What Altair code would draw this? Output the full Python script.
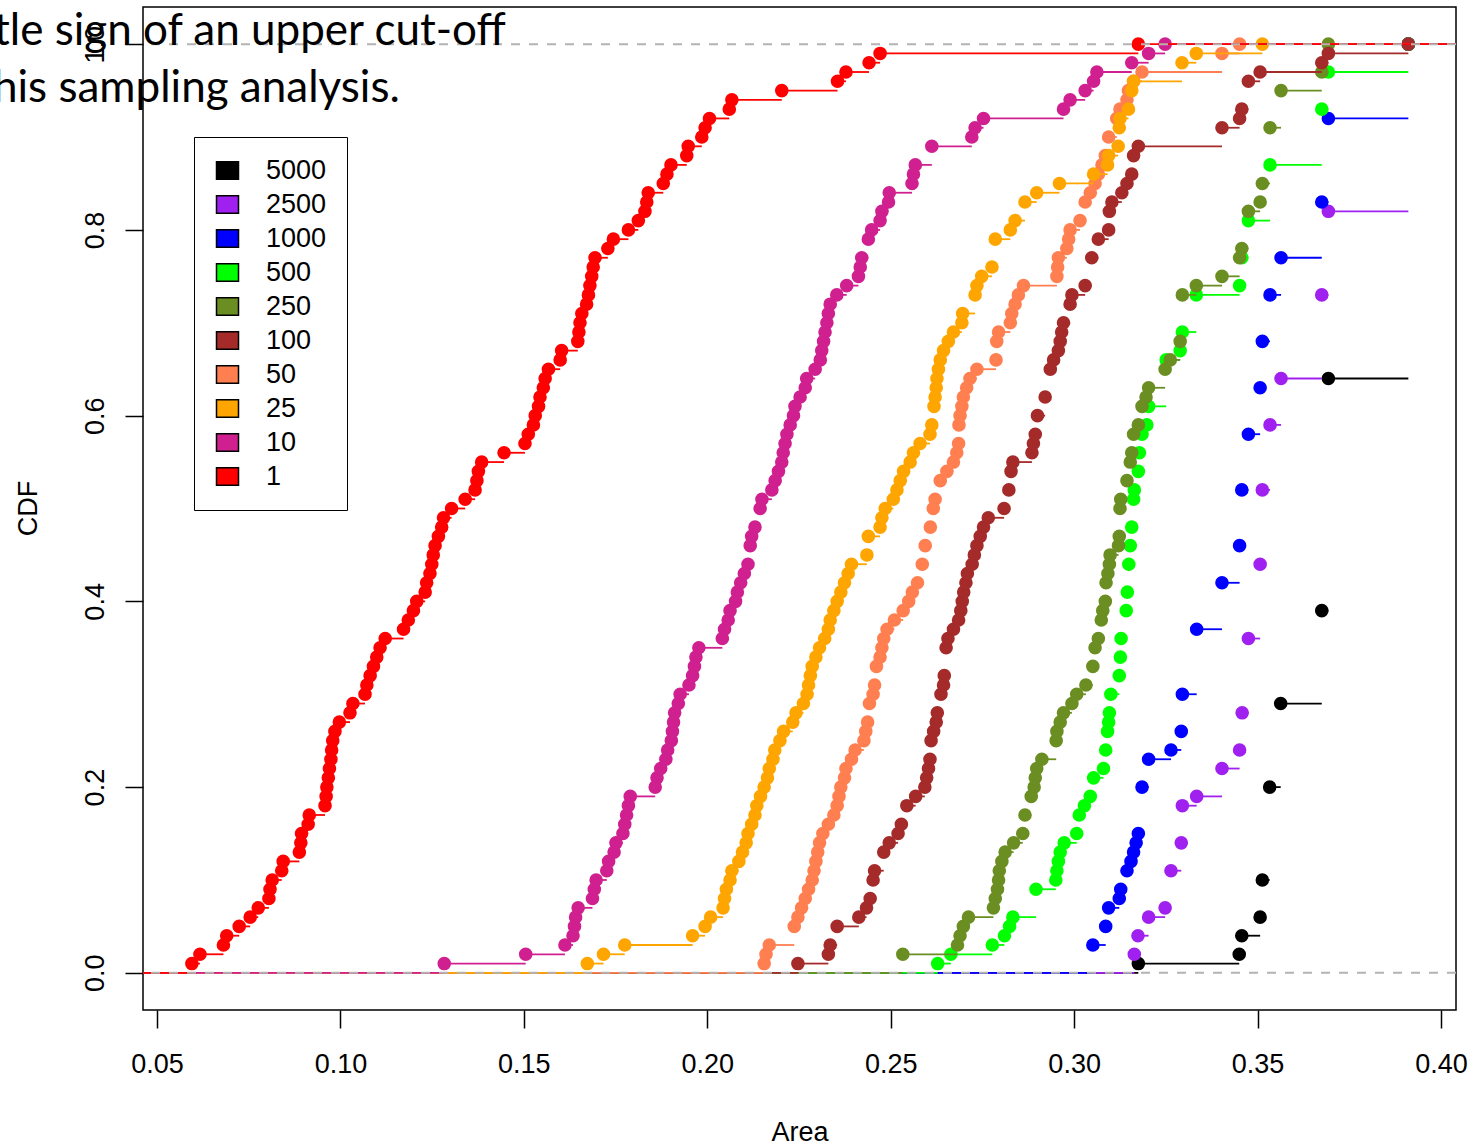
import altair as alt
import pandas as pd

FONT = "Liberation Sans"

# Sample sizes in legend order (top to bottom) and their colours
SIZES = ["5000", "2500", "1000", "500", "250", "100", "50", "25", "10", "1"]
COLORS = ["#000000", "#A020F0", "#0000FF", "#00FF00", "#6B8E23",
          "#A52A2A", "#FF7F50", "#FFA500", "#D02090", "#FF0000"]

# Axis limits and tick positions
X_LIMITS = [0.04618, 0.40409]
Y_LIMITS = [-0.04, 1.04]
X_TICKS = [0.05, 0.10, 0.15, 0.20, 0.25, 0.30, 0.35, 0.40]
Y_TICKS = [0.0, 0.2, 0.4, 0.6, 0.8, 1.0]

# ECDF knots per sample size: (area, cumulative count out of 100 draws)
ecdf_5000 = [(0.3175, 1), (0.3450, 2), (0.3457, 4), (0.3507, 6), (0.3513, 10),
             (0.3533, 20), (0.3563, 29), (0.3675, 39), (0.3693, 64), (0.3911, 100)]

ecdf_2500 = [(0.3164, 2), (0.3174, 4), (0.3203, 6), (0.3248, 7), (0.3264, 11),
             (0.3292, 14), (0.3295, 18), (0.3334, 19), (0.3403, 22), (0.3451, 24),
             (0.3458, 28), (0.3475, 36), (0.3507, 44), (0.3513, 52), (0.3534, 59),
             (0.3564, 64), (0.3675, 73), (0.3693, 82), (0.3911, 100)]

ecdf_1000 = [(0.3051, 3), (0.3086, 5), (0.3094, 7), (0.3123, 8), (0.3127, 9),
             (0.3144, 11), (0.3155, 12), (0.3162, 13), (0.3169, 14), (0.3175, 15),
             (0.3185, 20), (0.3203, 23), (0.3264, 24), (0.3292, 26), (0.3295, 30),
             (0.3334, 37), (0.3403, 42), (0.3451, 46), (0.3457, 52), (0.3475, 58),
             (0.3507, 63), (0.3513, 68), (0.3534, 73), (0.3564, 77), (0.3675, 83),
             (0.3693, 92), (0.3911, 100)]

ecdf_500 = [(0.2628, 1), (0.2664, 2), (0.2777, 3), (0.2810, 4), (0.2824, 5),
            (0.2833, 6), (0.2896, 9), (0.2950, 10), (0.2953, 11), (0.2957, 12),
            (0.2962, 13), (0.2973, 14), (0.3007, 15), (0.3014, 17), (0.3028, 18),
            (0.3044, 19), (0.3053, 21), (0.3080, 22), (0.3086, 24), (0.3091, 26),
            (0.3094, 27), (0.3096, 28), (0.3100, 30), (0.3123, 32), (0.3126, 34),
            (0.3128, 36), (0.3142, 39), (0.3145, 41), (0.3149, 44), (0.3153, 46),
            (0.3157, 48), (0.3162, 51), (0.3164, 52), (0.3175, 54), (0.3178, 56),
            (0.3185, 58), (0.3198, 59), (0.3203, 61), (0.3251, 66), (0.3289, 67),
            (0.3295, 69), (0.3333, 73), (0.3451, 74), (0.3457, 77), (0.3475, 81),
            (0.3534, 87), (0.3675, 93), (0.3693, 97), (0.3911, 100)]

ecdf_250 = [(0.2533, 2), (0.2682, 3), (0.2689, 4), (0.2698, 5), (0.2712, 6),
            (0.2780, 7), (0.2785, 8), (0.2791, 9), (0.2794, 10), (0.2796, 11),
            (0.2803, 12), (0.2812, 13), (0.2835, 14), (0.2860, 15), (0.2866, 17),
            (0.2883, 19), (0.2891, 20), (0.2894, 21), (0.2898, 22), (0.2912, 23),
            (0.2951, 25), (0.2953, 26), (0.2962, 27), (0.2971, 28), (0.2994, 29),
            (0.3007, 30), (0.3032, 31), (0.3051, 33), (0.3057, 35), (0.3066, 36),
            (0.3074, 38), (0.3078, 39), (0.3085, 40), (0.3087, 42), (0.3092, 43),
            (0.3096, 44), (0.3098, 45), (0.3121, 46), (0.3123, 47), (0.3125, 50),
            (0.3127, 51), (0.3144, 53), (0.3153, 55), (0.3157, 56), (0.3162, 58),
            (0.3175, 59), (0.3185, 61), (0.3196, 62), (0.3203, 63), (0.3248, 65),
            (0.3262, 66), (0.3289, 68), (0.3295, 73), (0.3333, 74), (0.3403, 75),
            (0.3451, 77), (0.3457, 78), (0.3475, 82), (0.3507, 83), (0.3513, 85),
            (0.3534, 91), (0.3564, 95), (0.3675, 97), (0.3693, 100)]

ecdf_100 = [(0.2247, 1), (0.2330, 2), (0.2335, 3), (0.2354, 5), (0.2413, 6),
            (0.2434, 7), (0.2444, 8), (0.2452, 10), (0.2456, 11), (0.2481, 13),
            (0.2496, 14), (0.2520, 15), (0.2529, 16), (0.2544, 18), (0.2568, 19),
            (0.2593, 20), (0.2598, 21), (0.2603, 22), (0.2607, 23), (0.2610, 25),
            (0.2617, 26), (0.2624, 27), (0.2627, 28), (0.2637, 30), (0.2644, 31),
            (0.2646, 32), (0.2651, 35), (0.2656, 36), (0.2671, 37), (0.2685, 38),
            (0.2691, 39), (0.2695, 40), (0.2699, 41), (0.2705, 42), (0.2709, 43),
            (0.2722, 44), (0.2728, 45), (0.2735, 46), (0.2744, 47), (0.2753, 48),
            (0.2766, 49), (0.2809, 50), (0.2822, 52), (0.2828, 54), (0.2833, 55),
            (0.2885, 56), (0.2889, 57), (0.2894, 58), (0.2900, 60), (0.2921, 62),
            (0.2935, 65), (0.2944, 66), (0.2957, 67), (0.2962, 68), (0.2966, 69),
            (0.2971, 70), (0.2989, 72), (0.2994, 73), (0.3030, 74), (0.3048, 77),
            (0.3066, 79), (0.3094, 80), (0.3096, 82), (0.3103, 83), (0.3130, 84),
            (0.3144, 85), (0.3157, 86), (0.3162, 88), (0.3175, 89), (0.3403, 91),
            (0.3451, 92), (0.3457, 93), (0.3475, 96), (0.3507, 97), (0.3675, 98),
            (0.3693, 99), (0.3911, 100)]

ecdf_50 = [(0.2155, 1), (0.2160, 2), (0.2169, 3), (0.2237, 5), (0.2247, 6),
           (0.2257, 7), (0.2267, 8), (0.2276, 9), (0.2286, 10), (0.2291, 11),
           (0.2296, 12), (0.2301, 13), (0.2306, 14), (0.2315, 15), (0.2330, 16),
           (0.2345, 17), (0.2354, 18), (0.2359, 19), (0.2364, 20), (0.2374, 21),
           (0.2378, 22), (0.2393, 23), (0.2403, 24), (0.2427, 25), (0.2432, 26),
           (0.2437, 27), (0.2442, 29), (0.2452, 30), (0.2456, 31), (0.2461, 33),
           (0.2471, 34), (0.2476, 35), (0.2481, 36), (0.2490, 37), (0.2510, 38),
           (0.2534, 39), (0.2549, 40), (0.2559, 41), (0.2573, 42), (0.2586, 44),
           (0.2594, 46), (0.2608, 48), (0.2616, 50), (0.2621, 51), (0.2635, 53),
           (0.2653, 54), (0.2671, 55), (0.2680, 56), (0.2685, 57), (0.2686, 59),
           (0.2689, 60), (0.2694, 61), (0.2698, 62), (0.2707, 63), (0.2716, 64),
           (0.2735, 65), (0.2787, 66), (0.2789, 68), (0.2794, 69), (0.2826, 70),
           (0.2830, 71), (0.2839, 72), (0.2848, 73), (0.2862, 74), (0.2953, 75),
           (0.2955, 76), (0.2957, 77), (0.2980, 78), (0.2985, 79), (0.2989, 80),
           (0.3016, 81), (0.3030, 83), (0.3044, 84), (0.3057, 85), (0.3066, 86),
           (0.3076, 87), (0.3085, 88), (0.3094, 90), (0.3116, 92), (0.3125, 93),
           (0.3144, 94), (0.3148, 95), (0.3162, 96), (0.3185, 97), (0.3403, 99),
           (0.3451, 100)]

ecdf_25 = [(0.1673, 1), (0.1717, 2), (0.1775, 3), (0.1960, 4), (0.1994, 5),
           (0.2009, 6), (0.2043, 7), (0.2047, 8), (0.2052, 9), (0.2062, 10),
           (0.2067, 11), (0.2086, 12), (0.2096, 13), (0.2106, 14), (0.2111, 15),
           (0.2121, 16), (0.2130, 17), (0.2135, 18), (0.2145, 19), (0.2155, 20),
           (0.2164, 21), (0.2169, 22), (0.2179, 23), (0.2184, 24), (0.2198, 25),
           (0.2208, 26), (0.2233, 27), (0.2242, 28), (0.2262, 29), (0.2272, 30),
           (0.2276, 31), (0.2281, 32), (0.2286, 33), (0.2296, 34), (0.2306, 35),
           (0.2320, 36), (0.2330, 37), (0.2335, 38), (0.2345, 39), (0.2354, 40),
           (0.2364, 41), (0.2374, 42), (0.2384, 43), (0.2393, 44), (0.2435, 45),
           (0.2439, 47), (0.2471, 48), (0.2476, 49), (0.2485, 50), (0.2507, 51),
           (0.2517, 52), (0.2526, 53), (0.2535, 54), (0.2553, 55), (0.2562, 56),
           (0.2580, 57), (0.2607, 58), (0.2612, 59), (0.2618, 61), (0.2621, 62),
           (0.2624, 63), (0.2626, 64), (0.2630, 65), (0.2635, 66), (0.2644, 67),
           (0.2657, 68), (0.2671, 69), (0.2694, 70), (0.2696, 71), (0.2730, 73),
           (0.2735, 74), (0.2748, 75), (0.2776, 76), (0.2785, 79), (0.2826, 80),
           (0.2839, 81), (0.2866, 83), (0.2898, 84), (0.2960, 85), (0.3053, 86),
           (0.3091, 87), (0.3094, 88), (0.3120, 89), (0.3123, 91), (0.3125, 92),
           (0.3148, 93), (0.3157, 95), (0.3162, 96), (0.3294, 98), (0.3333, 99),
           (0.3513, 100)]

ecdf_10 = [(0.1283, 1), (0.1505, 2), (0.1612, 3), (0.1634, 4), (0.1638, 5),
           (0.1641, 6), (0.1648, 7), (0.1687, 8), (0.1692, 9), (0.1697, 10),
           (0.1726, 11), (0.1731, 12), (0.1746, 13), (0.1751, 14), (0.1770, 15),
           (0.1775, 16), (0.1780, 17), (0.1785, 18), (0.1790, 19), (0.1858, 20),
           (0.1863, 21), (0.1873, 22), (0.1887, 23), (0.1892, 24), (0.1902, 25),
           (0.1905, 26), (0.1908, 27), (0.1911, 28), (0.1921, 29), (0.1926, 30),
           (0.1950, 31), (0.1960, 32), (0.1965, 33), (0.1969, 34), (0.1977, 35),
           (0.2041, 36), (0.2047, 37), (0.2057, 38), (0.2062, 39), (0.2077, 40),
           (0.2082, 41), (0.2091, 42), (0.2101, 43), (0.2111, 44), (0.2117, 46),
           (0.2121, 47), (0.2130, 48), (0.2144, 50), (0.2149, 51), (0.2176, 52),
           (0.2185, 53), (0.2194, 54), (0.2203, 55), (0.2207, 56), (0.2212, 57),
           (0.2217, 58), (0.2226, 59), (0.2235, 60), (0.2239, 61), (0.2253, 62),
           (0.2267, 63), (0.2271, 64), (0.2294, 65), (0.2308, 66), (0.2312, 67),
           (0.2317, 68), (0.2321, 69), (0.2326, 70), (0.2330, 71), (0.2335, 72),
           (0.2353, 73), (0.2380, 74), (0.2412, 75), (0.2417, 76), (0.2421, 77),
           (0.2439, 79), (0.2448, 80), (0.2471, 81), (0.2476, 82), (0.2494, 83),
           (0.2496, 84), (0.2558, 85), (0.2562, 86), (0.2567, 87), (0.2612, 89),
           (0.2721, 90), (0.2730, 91), (0.2753, 92), (0.2971, 93), (0.2989, 94),
           (0.3030, 95), (0.3053, 96), (0.3062, 97), (0.3157, 98), (0.3203, 99),
           (0.3248, 100)]

ecdf_1 = [(0.0595, 1), (0.0617, 2), (0.0681, 3), (0.0690, 4), (0.0724, 5),
          (0.0754, 6), (0.0776, 7), (0.0805, 8), (0.0808, 9), (0.0814, 10),
          (0.0840, 11), (0.0844, 12), (0.0888, 13), (0.0892, 14), (0.0894, 15),
          (0.0912, 16), (0.0915, 17), (0.0958, 18), (0.0961, 19), (0.0963, 20),
          (0.0967, 21), (0.0970, 22), (0.0974, 23), (0.0976, 24), (0.0979, 25),
          (0.0985, 26), (0.0997, 27), (0.1026, 28), (0.1034, 29), (0.1067, 30),
          (0.1072, 31), (0.1081, 32), (0.1090, 33), (0.1099, 34), (0.1108, 35),
          (0.1122, 36), (0.1172, 37), (0.1185, 38), (0.1199, 39), (0.1208, 40),
          (0.1231, 41), (0.1235, 42), (0.1244, 43), (0.1249, 44), (0.1253, 45),
          (0.1258, 46), (0.1267, 47), (0.1276, 48), (0.1281, 49), (0.1303, 50),
          (0.1340, 51), (0.1367, 52), (0.1372, 53), (0.1376, 54), (0.1385, 55),
          (0.1446, 56), (0.1503, 57), (0.1512, 58), (0.1526, 59), (0.1531, 60),
          (0.1540, 61), (0.1544, 62), (0.1553, 63), (0.1558, 64), (0.1567, 65),
          (0.1599, 66), (0.1603, 67), (0.1647, 68), (0.1650, 69), (0.1653, 70),
          (0.1658, 71), (0.1671, 72), (0.1676, 73), (0.1680, 74), (0.1685, 75),
          (0.1689, 76), (0.1694, 77), (0.1729, 78), (0.1744, 79), (0.1785, 80),
          (0.1812, 81), (0.1830, 82), (0.1835, 83), (0.1839, 84), (0.1880, 85),
          (0.1890, 86), (0.1901, 87), (0.1944, 88), (0.1948, 89), (0.1985, 90),
          (0.1994, 91), (0.2006, 92), (0.2060, 93), (0.2067, 94), (0.2203, 95),
          (0.2355, 96), (0.2378, 97), (0.2441, 98), (0.2471, 99), (0.3175, 100)]

ECDF = {"5000": ecdf_5000, "2500": ecdf_2500, "1000": ecdf_1000, "500": ecdf_500,
        "250": ecdf_250, "100": ecdf_100, "50": ecdf_50, "25": ecdf_25,
        "10": ecdf_10, "1": ecdf_1}

NOTE_LINE_1 = "tle sign of an upper cut-off"
NOTE_LINE_2 = "his sampling analysis."

x_scale = alt.Scale(domain=X_LIMITS, nice=False, zero=False)
y_scale = alt.Scale(domain=Y_LIMITS, nice=False, zero=False)
color_scale = alt.Scale(domain=SIZES, range=COLORS)

x_axis = alt.Axis(
    title="Area", values=X_TICKS, format=".2f", grid=False, domain=False,
    tickSize=18, tickColor="black", tickWidth=1.5,
    labelFont=FONT, labelFontSize=27, labelColor="black", labelPadding=44,
    labelBaseline="alphabetic", labelFlush=False, labelOverlap=False,
    titleFont=FONT, titleFontSize=27, titleFontWeight="normal", titleColor="black",
    titleY=130, titleBaseline="alphabetic",
)
y_axis = alt.Axis(
    title="CDF", values=Y_TICKS, format=".1f", grid=False, domain=False,
    tickSize=18, tickColor="black", tickWidth=1.5,
    labelFont=FONT, labelFontSize=27, labelColor="black", labelPadding=22,
    labelAngle=270, labelAlign="center", labelBaseline="alphabetic",
    labelFlush=False, labelOverlap=False,
    titleFont=FONT, titleFontSize=27, titleFontWeight="normal", titleColor="black",
    titleAngle=270, titleX=-107, titleY=501, titleAlign="center",
    titleBaseline="alphabetic",
)
legend = alt.Legend(
    title=None, orient="none", legendX=51, legendY=130, direction="vertical",
    symbolType="M-1,-0.8H1V0.8H-1Z", symbolSize=484, symbolOpacity=1,
    symbolStrokeColor="black", symbolStrokeWidth=1.5,
    labelFont=FONT, labelFontSize=27, labelColor="black", labelOffset=25,
    padding=20, rowPadding=6, strokeColor="black", fillColor="white",
)


def knots(size):
    pts = ECDF[size]
    return pd.DataFrame({
        "area": [a for a, _ in pts],
        "cdf": [c / 100 for _, c in pts],
        "size": size,
    })


def steps(size):
    # horizontal pieces of the step function, extended to the plot edges
    pts = ECDF[size]
    xs = [a for a, _ in pts]
    ys = [c / 100 for _, c in pts]
    return pd.DataFrame({
        "x": [X_LIMITS[0]] + xs,
        "x2": xs + [X_LIMITS[1]],
        "y": [0.0] + ys,
    })


layers = []
for size, color in zip(SIZES, COLORS):
    layers.append(
        alt.Chart(steps(size)).mark_rule(color=color, strokeWidth=1.8).encode(
            x=alt.X("x:Q", scale=x_scale, axis=x_axis),
            x2="x2:Q",
            y=alt.Y("y:Q", scale=y_scale, axis=y_axis),
        )
    )
    layers.append(
        alt.Chart(knots(size)).mark_circle(size=185, opacity=1).encode(
            x=alt.X("area:Q", scale=x_scale, axis=x_axis),
            y=alt.Y("cdf:Q", scale=y_scale, axis=y_axis),
            color=alt.Color("size:N", scale=color_scale, legend=legend),
        )
    )

# dashed reference lines at 0 and 1
ref = alt.Chart(pd.DataFrame({"y": [0.0, 1.0]})).mark_rule(
    color="#B3B3B3", strokeDash=[9, 9], strokeWidth=2
).encode(y=alt.Y("y:Q", scale=y_scale, axis=y_axis))
layers.append(ref)

note1 = alt.Chart(pd.DataFrame({"t": [NOTE_LINE_1]})).mark_text(
    align="left", baseline="alphabetic", font="Lato", fontSize=44, color="black"
).encode(x=alt.value(-149), y=alt.value(38), text="t:N")
note2 = alt.Chart(pd.DataFrame({"t": [NOTE_LINE_2]})).mark_text(
    align="left", baseline="alphabetic", font="Lato", fontSize=44, color="black"
).encode(x=alt.value(-150), y=alt.value(95), text="t:N")
layers += [note1, note2]

chart = alt.layer(*layers).properties(
    width=1313,
    height=1003,
    autosize=alt.AutoSizeParams(type="none"),
    padding={"left": 143, "top": 7, "right": 21, "bottom": 134},
    background="white",
).configure_view(stroke="black", strokeWidth=1.5)

chart.save("out.html", embed_options={"renderer": "svg", "actions": False})
